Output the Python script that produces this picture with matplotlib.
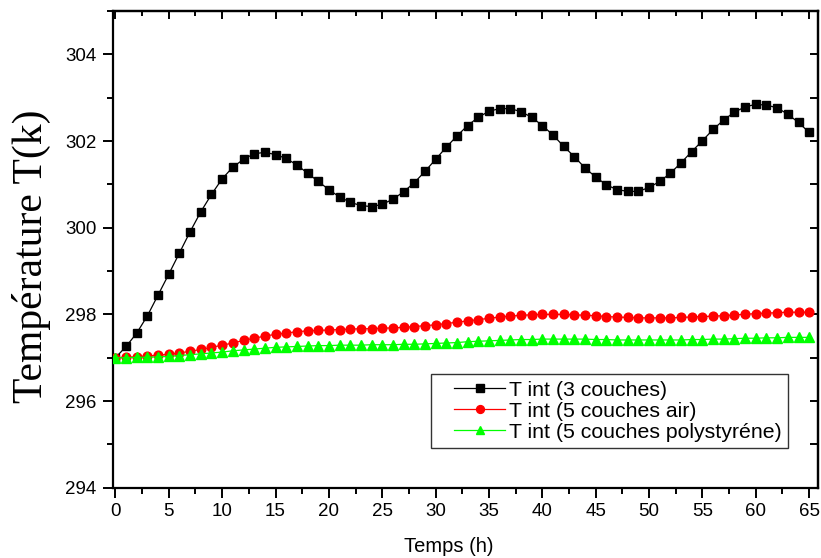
import matplotlib
matplotlib.use("Agg")
import matplotlib.pyplot as plt
from matplotlib.ticker import MultipleLocator
from matplotlib.legend_handler import HandlerLine2D

plt.rcParams['font.family'] = ['Liberation Sans', 'DejaVu Sans']

hours = list(range(0, 66))

t_3_couches = [297.00, 297.26, 297.57, 297.97, 298.45, 298.93, 299.42, 299.91, 300.37, 300.77,
               301.13, 301.40, 301.58, 301.71, 301.74, 301.69, 301.60, 301.45, 301.26, 301.07,
               300.88, 300.71, 300.59, 300.51, 300.49, 300.54, 300.66, 300.83, 301.04, 301.30,
               301.58, 301.86, 302.12, 302.36, 302.55, 302.69, 302.75, 302.75, 302.68, 302.55,
               302.36, 302.14, 301.88, 301.64, 301.38, 301.17, 300.99, 300.88, 300.84, 300.84,
               300.93, 301.07, 301.26, 301.50, 301.76, 302.01, 302.27, 302.49, 302.67, 302.79,
               302.85, 302.83, 302.77, 302.62, 302.43, 302.20]

t_5_air = [297.00, 297.01, 297.02, 297.04, 297.06, 297.08, 297.11, 297.15, 297.19, 297.24,
           297.29, 297.34, 297.40, 297.45, 297.50, 297.54, 297.57, 297.60, 297.62, 297.63,
           297.64, 297.65, 297.66, 297.67, 297.67, 297.68, 297.69, 297.70, 297.72, 297.74,
           297.76, 297.79, 297.82, 297.85, 297.88, 297.91, 297.94, 297.96, 297.98, 297.99,
           298.00, 298.00, 298.00, 297.99, 297.98, 297.97, 297.95, 297.94, 297.93, 297.92,
           297.92, 297.92, 297.92, 297.93, 297.94, 297.95, 297.96, 297.97, 297.99, 298.00,
           298.02, 298.03, 298.04, 298.05, 298.05, 298.05]

t_5_poly = [297.00, 297.00, 297.01, 297.01, 297.02, 297.03, 297.05, 297.07, 297.09, 297.11,
            297.13, 297.16, 297.18, 297.20, 297.22, 297.24, 297.25, 297.26, 297.27, 297.28,
            297.28, 297.29, 297.29, 297.29, 297.30, 297.30, 297.30, 297.31, 297.31, 297.32,
            297.33, 297.34, 297.35, 297.37, 297.38, 297.39, 297.40, 297.41, 297.42, 297.42,
            297.43, 297.43, 297.43, 297.43, 297.43, 297.42, 297.42, 297.41, 297.41, 297.41,
            297.41, 297.41, 297.41, 297.41, 297.42, 297.42, 297.43, 297.43, 297.44, 297.45,
            297.45, 297.46, 297.46, 297.47, 297.47, 297.47]

labels = ["T int (3 couches)", "T int (5 couches air)", "T int (5 couches polystyréne)"]
x_ticks = list(range(0, 70, 5))
y_ticks = [294, 296, 298, 300, 302, 304]


class IndentedLine(HandlerLine2D):
    def create_artists(self, legend, orig_handle, xdescent, ydescent, width, height,
                       fontsize, trans):
        shift = 0.8 * fontsize
        return super().create_artists(legend, orig_handle, xdescent - shift, ydescent,
                                      width - shift, height, fontsize, trans)


fig = plt.figure(figsize=(8.21, 5.58), dpi=100)
ax = fig.add_axes([0.138, 0.126, 0.858, 0.854])

ax.plot(hours, t_3_couches, color='black', lw=0.9, marker='s', markersize=6.3,
        label=labels[0], zorder=3)
ax.plot(hours, t_5_air, color='red', lw=0.9, marker='o', markersize=6.3,
        label=labels[1], zorder=4)
ax.plot(hours, t_5_poly, color='#00ff00', lw=0.9, marker='^', markersize=7,
        label=labels[2], zorder=5)

ax.set_xlim(-0.2, 65.8)
ax.set_ylim(294, 305)
ax.set_xticks(x_ticks)
ax.set_yticks(y_ticks)
ax.xaxis.set_minor_locator(MultipleLocator(2.5))
ax.yaxis.set_minor_locator(MultipleLocator(1))

for s in ax.spines.values():
    s.set_linewidth(1.6)

ax.tick_params(which='major', direction='out', length=7, width=1.4, labelsize=13.5,
               top=False, right=False)
ax.tick_params(which='minor', direction='out', length=4, width=1.4,
               top=False, right=False)
ax.tick_params(axis='x', which='major', pad=4)
ax.tick_params(axis='y', which='major', pad=5)

# mirrored inward ticks on top and right
axt = ax.secondary_xaxis('top')
axt.set_xticks(x_ticks)
axt.xaxis.set_minor_locator(MultipleLocator(2.5))
axt.tick_params(which='major', direction='in', length=6, width=1.4, labeltop=False)
axt.tick_params(which='minor', direction='in', length=3.5, width=1.4)
axt.spines['top'].set_linewidth(1.6)
axr = ax.secondary_yaxis('right')
axr.set_yticks(y_ticks)
axr.yaxis.set_minor_locator(MultipleLocator(1))
axr.tick_params(which='major', direction='in', length=5.5, width=1.4, labelright=False)
axr.tick_params(which='minor', direction='in', length=5.5, width=1.4)
axr.spines['right'].set_linewidth(1.6)

ax.set_xlabel("Temps (h)", fontsize=14.5)
ax.xaxis.set_label_coords(0.4766, -0.104)
ax.set_ylabel("Température T(k)", fontsize=30, family=['Liberation Serif', 'DejaVu Serif'])
ax.yaxis.set_label_coords(-0.088, 0.485)

leg = ax.legend(loc='lower left', bbox_to_anchor=(0.451, 0.083), fontsize=15.3,
                frameon=True, fancybox=False, edgecolor='#333333', framealpha=1,
                handlelength=3.2, handletextpad=0.15, labelspacing=0.1,
                borderpad=0.3, borderaxespad=0, markerscale=0.9,
                handler_map={plt.Line2D: IndentedLine()})
leg.get_frame().set_linewidth(1.0)

fig.savefig("out.png", dpi=100)
